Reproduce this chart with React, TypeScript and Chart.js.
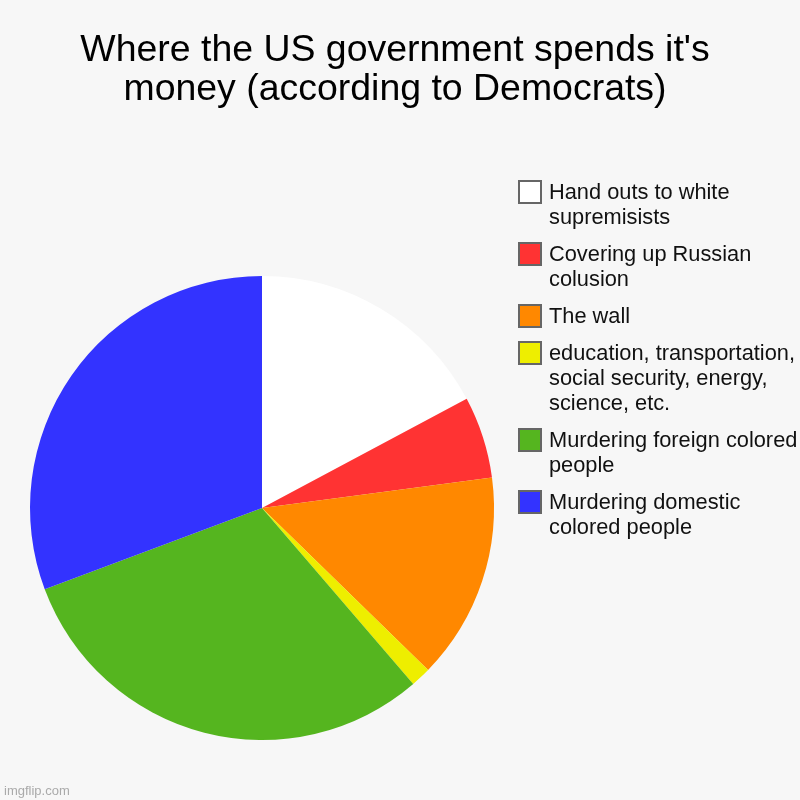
import React, { useEffect, useRef } from "react";
import { Chart, registerables } from "chart.js";

Chart.register(...registerables);

const TITLE_LINES = ["Where the US government spends it's", "money (according to Democrats)"];
const CATEGORIES: string[][] = [
  ["Hand outs to white", "supremisists"],
  ["Covering up Russian", "colusion"],
  ["The wall"],
  ["education, transportation,", "social security, energy,", "science, etc."],
  ["Murdering foreign colored", "people"],
  ["Murdering domestic", "colored people"],
];
const VALUES = [17.2, 5.7, 14.4, 1.4, 30.6, 30.7];
const COLORS = ["#ffffff", "#ff3333", "#ff8800", "#eeee00", "#55b51f", "#3333ff"];
const WATERMARK = "imgflip.com";

const FONT = "'Liberation Sans', Arial, sans-serif";

const decorPlugin = {
  id: "decor",
  beforeDraw(chart: any) {
    const ctx = chart.ctx;
    ctx.save();
    ctx.fillStyle = "#f7f7f7";
    ctx.fillRect(0, 0, chart.width, chart.height);
    ctx.restore();
  },
  afterDraw(chart: any) {
    const ctx = chart.ctx;
    ctx.save();
    // title
    ctx.fillStyle = "#000000";
    ctx.font = `36px ${FONT}`;
    ctx.textAlign = "center";
    ctx.textBaseline = "alphabetic";
    TITLE_LINES.forEach((line, i) => {
      ctx.save();
      ctx.translate(395, 61 + i * 39);
      ctx.scale(1.04, 1);
      ctx.fillText(line, 0, 0);
      ctx.restore();
    });
    // legend
    const labels = chart.data.labels as string[][];
    const colors = chart.data.datasets[0].backgroundColor as string[];
    ctx.textAlign = "left";
    ctx.font = `21.8px ${FONT}`;
    let top = 181;
    labels.forEach((lines, i) => {
      ctx.fillStyle = colors[i];
      ctx.fillRect(519, top, 22, 22);
      ctx.lineWidth = 2;
      ctx.strokeStyle = "#666666";
      ctx.strokeRect(519, top, 22, 22);
      ctx.fillStyle = "#111111";
      lines.forEach((ln, j) => {
        ctx.fillText(ln, 549, top + 18 + j * 25);
      });
      top += lines.length * 25 + 12;
    });
    // watermark
    ctx.fillStyle = "#aaaaaa";
    ctx.font = `13px ${FONT}`;
    ctx.fillText(WATERMARK, 4, 795);
    ctx.restore();
  },
};

export default function App() {
  const ref = useRef<HTMLCanvasElement>(null);
  useEffect(() => {
    if (!ref.current) return;
    const chart = new Chart(ref.current, {
      type: "pie",
      data: {
        labels: CATEGORIES,
        datasets: [
          {
            data: VALUES,
            backgroundColor: COLORS,
            borderWidth: 0,
          },
        ],
      },
      options: {
        responsive: false,
        animation: false,
        devicePixelRatio: 1,
        layout: { padding: { left: 30, right: 306, top: 276, bottom: 60 } },
        plugins: {
          legend: { display: false },
          title: { display: false },
          tooltip: { enabled: false },
        },
      },
      plugins: [decorPlugin],
    });
    return () => chart.destroy();
  }, []);
  return (
    <div style={{ position: "fixed", left: 0, top: 0, width: 800, height: 800 }}>
      <canvas ref={ref} width={800} height={800} />
    </div>
  );
}
